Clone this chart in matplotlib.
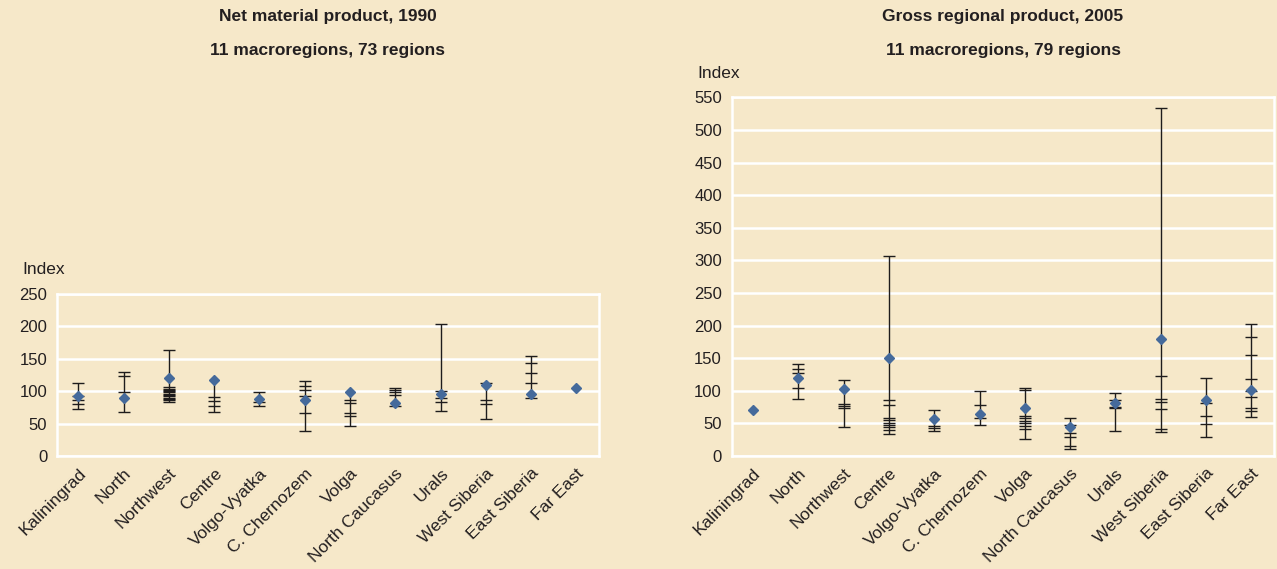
import matplotlib
matplotlib.use('Agg')
import matplotlib.pyplot as plt

plt.rcParams['font.family'] = ['Liberation Sans', 'DejaVu Sans']

categories = ["Kaliningrad", "North", "Northwest", "Centre", "Volgo-Vyatka",
              "C. Chernozem", "Volga", "North Caucasus", "Urals",
              "West Siberia", "East Siberia", "Far East"]

# Net material product, 1990 (macroregion value + individual regions)
nmp1990_macro = [92, 89, 121, 117, 88, 87, 98, 82, 95, 109, 95, 105]
nmp1990_regions = [
    [113, 93, 86, 80, 72],
    [129, 124, 99, 68],
    [164, 106, 104, 102, 100, 98, 96, 94, 92, 90, 88, 86, 84],
    [91, 85, 77, 68],
    [99, 84, 77],
    [116, 108, 102, 93, 67, 39],
    [87, 82, 67, 61, 46],
    [105, 102, 98, 94, 77],
    [204, 100, 89, 84, 70],
    [112, 86, 80, 57],
    [154, 144, 128, 112, 90],
    [],
]

# Gross regional product, 2005
grp2005_macro = [70, 120, 103, 150, 56, 65, 74, 44, 82, 179, 86, 101]
grp2005_regions = [
    [],
    [141, 133, 127, 105, 87],
    [117, 80, 77, 73, 45],
    [306, 86, 78, 58, 55, 51, 48, 44, 40, 33],
    [70, 46, 43, 38],
    [99, 78, 59, 47],
    [104, 101, 61, 58, 54, 50, 46, 41, 26],
    [58, 48, 35, 29, 15, 11],
    [97, 86, 75, 73, 39],
    [534, 122, 87, 83, 72, 41, 37],
    [120, 82, 61, 49, 29],
    [202, 182, 155, 118, 99, 91, 73, 69, 60],
]

BG = '#F6E8C9'
TXT = '#231F20'
LINE = '#1E1C1C'
BLUE = '#456A9B'

W, H = 1277, 569
fig = plt.figure(figsize=(W / 100, H / 100), dpi=100, facecolor=BG)


def px_rect(x0, x1, ytop, ybot):
    return [x0 / W, 1 - ybot / H, (x1 - x0) / W, (ybot - ytop) / H]


def panel(rect, macro, regions, ymax):
    ax = fig.add_axes(rect)
    ax.set_facecolor(BG)
    ax.set_xlim(-0.47, len(categories) - 0.5)
    ax.set_ylim(0, ymax)
    ax.set_yticks(range(0, ymax + 1, 50))
    ax.yaxis.grid(True, color='white', lw=1.8)
    ax.set_axisbelow(True)
    for s in ax.spines.values():
        s.set_color('white')
        s.set_linewidth(1.8)
    ax.tick_params(axis='y', length=0, labelsize=12, colors=TXT, pad=7)
    ax.tick_params(axis='x', length=0, labelsize=12.5, colors=TXT, pad=7)
    ax.set_xticks(range(len(categories)))
    ax.set_xticklabels(categories, rotation=45, ha='right',
                       rotation_mode='anchor')
    for i, (m, r) in enumerate(zip(macro, regions)):
        if r:
            vals = list(r) + [m]
            ax.vlines(i, min(vals), max(vals), color=LINE, lw=1.0, zorder=2)
            ax.plot([i] * len(r), r, ls='none', marker='_', ms=8.6,
                    mew=1.0, color=LINE, zorder=3)
    ax.plot(range(len(macro)), macro, ls='none', marker='D', ms=5.2,
            color=BLUE, mec=BLUE, zorder=4)
    return ax


axL = panel(px_rect(57, 599, 294, 456), nmp1990_macro, nmp1990_regions, 250)
axR = panel(px_rect(731.7, 1274, 97.3, 456), grp2005_macro, grp2005_regions, 550)

# titles
for cx, t1, t2 in [(328, "Net material product, 1990", "11 macroregions, 73 regions"),
                   (1003, "Gross regional product, 2005", "11 macroregions, 79 regions")]:
    fig.text(cx / W, 1 - 17 / H, t1, ha='center', va='center',
             fontsize=12.5, fontweight='bold', color=TXT)
    fig.text(cx / W, 1 - 50 / H, t2, ha='center', va='center',
             fontsize=12.5, fontweight='bold', color=TXT)

fig.text(22 / W, 1 - 270 / H, "Index", ha='left', va='center', fontsize=12.5, color=TXT)
fig.text(697 / W, 1 - 74 / H, "Index", ha='left', va='center', fontsize=12.5, color=TXT)

fig.savefig('out.png', dpi=100, facecolor=BG)
